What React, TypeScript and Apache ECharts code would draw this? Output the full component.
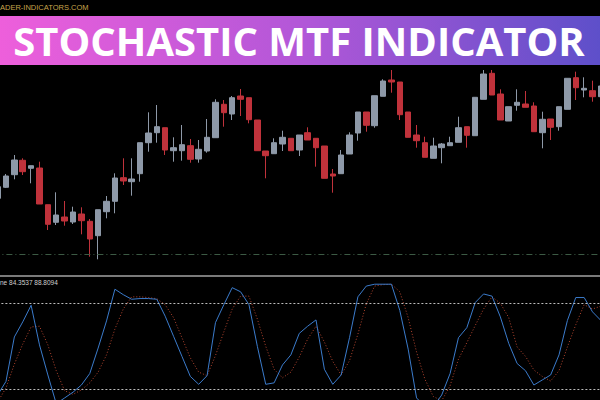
import React, { useEffect, useRef } from 'react';
import * as echarts from 'echarts';

// bar numbers (hidden category axis)
const bars: string[] = Array.from({ length: 73 }, (_, i) => String(i + 1));

// candles: [open, close, low, high] (price units)
const ohlc: number[][] = [
  [101.7, 113.3, 100, 116], [112.7, 124, 112, 126], [125.3, 140, 120.7, 145], [139.7, 128.3, 125, 141.7],
  [131.7, 134.3, 116.7, 134.3], [132, 96, 96, 138.3], [95.3, 75.7, 70, 95.3], [77.7, 85, 75, 107.7],
  [83, 79, 74.3, 99], [78, 88, 76, 93.3], [86, 79.3, 65.7, 92.7], [78.7, 61, 43.3, 81],
  [64.3, 90.3, 40.7, 90.3], [88.3, 98.7, 81.7, 104], [98.7, 122, 86.7, 126.7], [122.3, 119, 115, 141.7],
  [118.3, 121, 104.3, 141.7], [126.3, 157.3, 118.3, 157.3], [157.3, 167, 148.3, 187.7], [167.3, 173.3, 157.3, 195],
  [172.3, 150, 145, 172.3], [149.3, 152.3, 138.3, 162.7], [149.3, 155.3, 139.3, 175], [154.3, 140.7, 137.3, 161],
  [141, 150.7, 137.3, 160], [149, 162.7, 147.3, 181], [162.3, 197.7, 162.3, 200.7], [195.7, 187.3, 173.3, 200],
  [186, 202.3, 180, 204], [204, 200.7, 184, 211], [202.3, 180.3, 176.7, 202.3], [180, 149.3, 149.3, 180],
  [149, 144.3, 121.7, 149], [146.3, 157.3, 146.3, 161.7], [156, 162.7, 149, 169.3], [161.7, 149.3, 149.3, 161.7],
  [150, 165, 144, 165], [167.3, 160, 160, 172.7], [161.7, 152.3, 133.3, 161.7], [154, 121.7, 121.7, 154],
  [126, 124, 107.3, 131], [126.3, 145, 126.3, 150], [146, 165, 146, 167.7], [167, 188, 159.3, 188],
  [188, 174.7, 168.3, 188], [174.3, 204.3, 172.3, 204.3], [203.7, 219, 203.7, 220.7], [220, 218, 207.3, 230],
  [218, 185.3, 180, 218], [188, 162.7, 162.7, 188], [165, 159.3, 152.3, 175], [157.3, 142.7, 142.7, 163.3],
  [141.7, 154, 141.7, 162.3], [152.3, 156, 136.7, 157], [154.3, 157.3, 154.3, 163.3], [157.7, 172.3, 157.7, 183.3],
  [173.3, 164.7, 152.3, 173.3], [164.3, 202.7, 164.3, 202.7], [200.7, 226, 200.7, 230], [226.7, 205, 205, 230],
  [206, 180, 180, 210.7], [179, 193.3, 179, 193.3], [194.7, 197.7, 189.3, 210.7], [196, 192.7, 192.7, 209],
  [194, 168.3, 168.3, 197.7], [167.3, 180.7, 151.7, 188.3], [181, 172.7, 160, 181], [173.3, 193.3, 169.3, 193.3],
  [190.7, 221.7, 190.7, 221.7], [222.3, 212.3, 200, 228.3], [210, 211.7, 202.7, 222.7], [209.3, 203.3, 198.3, 219.3],
  [203.3, 214, 203.3, 216],
];

// stochastic main line (%K)
const mainK: number[] = [
  16, 25.5, 56.5, 67, 78.6, 51, 30, 10, 14, 18, 23, 31, 48.8, 67.7, 89.8, 86, 82.8, 83.3, 83.3, 82.8,
  71, 57, 43, 29, 23.5, 29.5, 66.5, 79, 90.9, 88, 79, 50, 23.5, 24.5, 37, 44, 59, 64, 68.4, 34,
  23.5, 30, 56, 84.5, 92, 93.3, 93.3, 93.3, 75, 48, 14, 8, 8, 16, 31, 56, 63, 80.5, 86.5, 85,
  70.5, 52, 38, 33, 23, 26.5, 30, 44, 68, 84, 84, 74, 68,
];

// stochastic signal line (%D)
const signalD: number[] = [
  11, 21, 37.5, 51.5, 63.5, 64, 51, 33, 19, 16.5, 19.5, 24.5, 32, 44, 62, 76, 84.5, 84.5, 84, 83.2,
  79, 70, 56, 42, 32, 29.5, 43.5, 60, 76, 85, 85, 69, 50, 34, 28, 32, 42.5, 55, 64, 53,
  39.5, 30, 40, 58.5, 79.5, 92, 93, 93.3, 88, 70, 46, 27, 15, 12, 22.5, 41, 52.5, 64.5, 76, 84.5,
  80, 70, 49.5, 43, 33.5, 29, 25.8, 33, 49.5, 65, 79, 76, 78,
];

const levels: number[] = [80, 20];
const priceLevel = 45.7;
const titleText = 'STOCHASTIC MTF INDICATOR';
const siteText = 'ADER-INDICATORS.COM';
const indicatorLabel = 'ne 84.3537 88.8094';

// the chart container is shifted 7px to the left so the first, half-cut candle sits at the page edge
const SHIFT = 7;

export default function App() {
  const ref = useRef<HTMLDivElement>(null);
  useEffect(() => {
    if (!ref.current) return;
    const chart = echarts.init(ref.current, null, { renderer: 'svg' });
    const bull = '#8e99a8';
    const bear = '#c0323b';
    chart.setOption({
      animation: false,
      backgroundColor: '#000000',
      grid: [
        { left: 0.4, width: 611.7, top: 70, height: 200, outerBoundsMode: 'none' },
        { left: 0.4, width: 611.7, top: 274.6, height: 143.4, outerBoundsMode: 'none' },
      ],
      xAxis: [
        { type: 'category', data: bars, gridIndex: 0, show: false, boundaryGap: true },
        { type: 'category', data: bars, gridIndex: 1, show: false, boundaryGap: true },
      ],
      yAxis: [
        { type: 'value', gridIndex: 0, min: 30, max: 230, show: false, splitLine: { show: false } },
        { type: 'value', gridIndex: 1, min: 0, max: 100, show: false, splitLine: { show: false } },
      ],
      series: [
        {
          type: 'candlestick',
          data: ohlc,
          barWidth: 6,
          itemStyle: { color: bull, color0: bear, borderColor: bull, borderColor0: bear, borderWidth: 1 },
          markLine: {
            silent: true,
            symbol: 'none',
            label: { show: false },
            lineStyle: { color: '#3c5a44', type: [6, 3, 1, 3], width: 1 },
            data: [{ yAxis: priceLevel }],
          },
        },
        {
          type: 'line',
          xAxisIndex: 1,
          yAxisIndex: 1,
          data: signalD,
          symbol: 'none',
          lineStyle: { color: '#b4452f', width: 1, type: [1, 2] },
        },
        {
          type: 'line',
          xAxisIndex: 1,
          yAxisIndex: 1,
          data: mainK,
          symbol: 'none',
          lineStyle: { color: '#3b7bcb', width: 1 },
          markLine: {
            silent: true,
            symbol: 'none',
            label: { show: false },
            lineStyle: { color: '#bdbdbd', type: [2, 2], width: 1 },
            data: levels.map((v) => ({ yAxis: v })),
          },
        },
      ],
      graphic: [
        {
          type: 'rect',
          z: 100,
          shape: { x: 0, y: 16, width: 620, height: 49 },
          style: {
            fill: new echarts.graphic.LinearGradient(0, 0, 1, 0, [
              { offset: 0, color: '#ef5fdb' },
              { offset: 0.5, color: '#b257d8' },
              { offset: 1, color: '#5a4fc9' },
            ]),
          },
        },
        {
          type: 'text',
          z: 101,
          x: 299 + SHIFT,
          y: 40,
          style: {
            text: titleText,
            fill: '#ffffff',
            font: 'bold 40px "Open Sans", "Noto Sans", sans-serif',
            align: 'center',
            verticalAlign: 'middle',
            textAlign: 'center',
            textVerticalAlign: 'middle',
          },
        },
        {
          type: 'text',
          z: 101,
          x: SHIFT,
          y: 7,
          style: {
            text: siteText,
            fill: '#c8a54c',
            font: '7.5px "Liberation Sans", Arial, sans-serif',
            align: 'left',
            verticalAlign: 'middle',
            textAlign: 'left',
            textVerticalAlign: 'middle',
          },
        },
        {
          type: 'rect',
          z: 100,
          shape: { x: 0, y: 275, width: 620, height: 2 },
          style: { fill: '#7a7a7a' },
        },
        {
          type: 'text',
          z: 101,
          x: SHIFT,
          y: 282,
          style: {
            text: indicatorLabel,
            fill: '#d0d0d0',
            font: '6.5px "Liberation Sans", Arial, sans-serif',
            align: 'left',
            verticalAlign: 'middle',
            textAlign: 'left',
            textVerticalAlign: 'middle',
          },
        },
      ],
    });
    return () => chart.dispose();
  }, []);
  return (
    <div
      ref={ref}
      style={{ position: 'fixed', left: -SHIFT, top: 0, width: 620, height: 420, background: '#000' }}
    />
  );
}
